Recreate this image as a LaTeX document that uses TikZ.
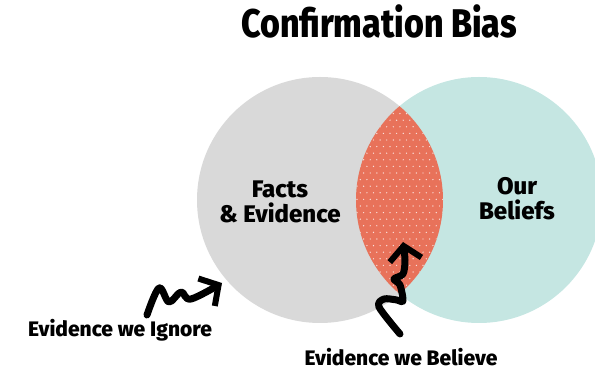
\documentclass[tikz,border=0pt]{standalone}
\usepackage{fontspec}
\setmainfont{Fira Sans}[BoldFont={Fira Sans ExtraBold}]
\usetikzlibrary{arrows.meta}
\definecolor{factgray}{HTML}{D9D9D9}
\definecolor{beliefteal}{HTML}{C5E6E2}
\definecolor{lensred}{HTML}{E8725A}
\tikzset{
  squiggle/.style={line width=7pt, line cap=round, line join=round,
    -{Straight Barb[length=14pt,width=32pt,line width=6pt]}},
  titletext/.style={anchor=base, font=\bfseries\fontsize{40}{40}\selectfont},
  circletext/.style={align=center, font=\bfseries\fontsize{24}{25}\selectfont},
  arrowtext/.style={anchor=base, inner sep=1pt, font=\bfseries\fontsize{21}{21}\selectfont}
}
\begin{document}
\begin{tikzpicture}[x=1pt,y=-1pt]
  \useasboundingbox (0,0) rectangle (595,371);

  %Circles
  \fill[factgray] (320,200) circle (123);
  \fill[beliefteal] (479,200) circle (123);

  %Overlap with dots
  \begin{scope}
    \clip (320,200) circle (123);
    \clip (479,200) circle (123);
    \fill[lensred] (350,70) rectangle (450,330);
    \foreach \row in {0,...,36}
      \foreach \col in {0,...,14}
        \fill[white, opacity=.8] ({357+\col*6.6+mod(\row,2)*3.3},{107+\row*6.6}) circle (.7);
  \end{scope}

  %Labels
  \node[titletext] (title) at (379,38) {\scalebox{.85}[1]{Confirmation Bias}};
  \node[circletext] (facts) at (280,202) {Facts\\\& Evidence};
  \node[circletext] (beliefs) at (517,199) {Our\\Beliefs};
  \node[arrowtext] (ignore) at (120,337) {Evidence we Ignore};
  \node[arrowtext] (believe) at (401,366) {Evidence we Believe};

  %Squiggly arrows
  \coordinate (ignore tail) at (147,315);
  \coordinate (ignore head) at (222,283);
  \draw[squiggle] plot[smooth, tension=.6] coordinates
    {(ignore tail) (159,288) (169,302) (181,292) (191,299) (ignore head)};

  \coordinate (believe tail) at (400,334);
  \coordinate (believe head) at (403,242);
  \draw[squiggle] plot[smooth, tension=.5] coordinates
    {(believe tail) (379,307) (384,299) (397,300) (403,301) (400,285) (394,279) (403,274) (405,260) (believe head)};
\end{tikzpicture}
\end{document}
